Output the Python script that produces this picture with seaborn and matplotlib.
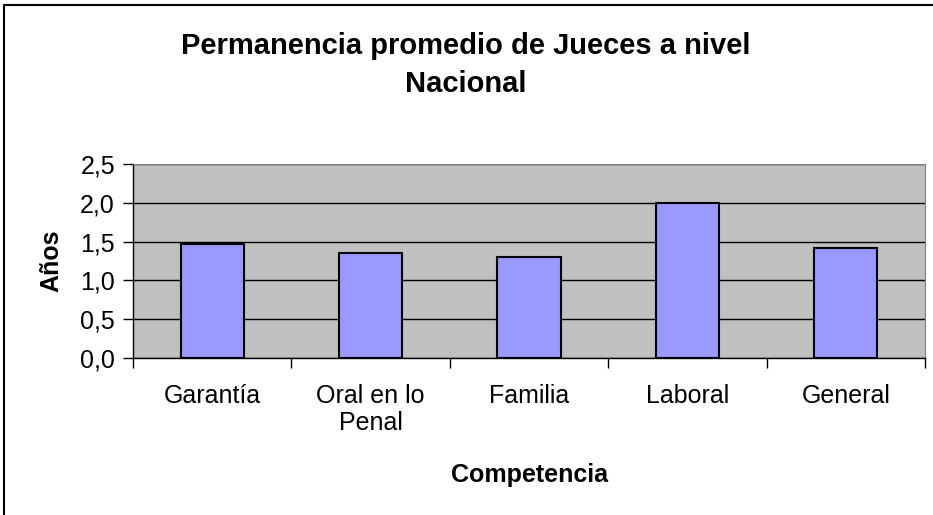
import seaborn as sns
import pandas as pd
import matplotlib.pyplot as plt
from matplotlib.lines import Line2D
from matplotlib.ticker import FixedLocator

categorias = ["Garantía", "Oral en lo\nPenal", "Familia", "Laboral", "General"]
anios = [1.47, 1.35, 1.30, 2.00, 1.42]
y_ticks = [0.0, 0.5, 1.0, 1.5, 2.0, 2.5]
y_labels = ["0,0", "0,5", "1,0", "1,5", "2,0", "2,5"]

sns.set_style("white")
plt.rcParams['font.family'] = ['Liberation Sans', 'DejaVu Sans']
plt.rcParams['text.color'] = 'black'
plt.rcParams['axes.labelcolor'] = 'black'
plt.rcParams['xtick.color'] = 'black'
plt.rcParams['ytick.color'] = 'black'

df = pd.DataFrame({'Competencia': categorias, 'Años': anios})

f = plt.figure(figsize=(9.33, 5.15), dpi=100)
ax = f.add_axes([133 / 933, 1 - 358 / 515, (925 - 133) / 933, (358 - 164) / 515])
ax.set_facecolor('#C0C0C0')

sns.barplot(data=df, x='Competencia', y='Años', color='#9999FF', saturation=1,
            edgecolor='black', linewidth=1.5, width=0.4, ax=ax, zorder=3)

ax.set_ylim(0, 2.5)
ax.set_xlim(-0.5, len(categorias) - 0.5)
ax.set_yticks(y_ticks)
ax.set_yticklabels(y_labels, fontsize=18)
ax.tick_params(axis='y', direction='out', length=7, width=1, left=True, pad=6)
ax.tick_params(axis='x', which='major', length=0, labelsize=18, pad=19)
for t in ax.get_xticklabels():
    t.set_linespacing(1.15)
ax.xaxis.set_minor_locator(FixedLocator([i - 0.5 for i in range(len(categorias) + 1)]))
ax.tick_params(axis='x', which='minor', direction='out', length=7, width=1, bottom=True)

ax.yaxis.grid(True, color='black', linewidth=1, zorder=1)
ax.set_axisbelow(True)
for s in ['left', 'bottom']:
    ax.spines[s].set_color('black')
    ax.spines[s].set_linewidth(1)
ax.spines['right'].set_color('#808080')
ax.spines['top'].set_color('#808080')

ax.set_xlabel('Competencia', fontsize=18, fontweight='bold', labelpad=20)
ax.set_ylabel('Años', fontsize=18, fontweight='bold', labelpad=12)

f.text(466 / 933, 1 - 65 / 515, "Permanencia promedio de Jueces a nivel\nNacional",
       ha='center', va='center', fontsize=21, fontweight='bold', linespacing=1.45)

# marco del gráfico (solo borde superior e izquierdo visibles)
f.add_artist(Line2D([4 / 933, 1], [1 - 4.5 / 515, 1 - 4.5 / 515], color='black', linewidth=1.5))
f.add_artist(Line2D([4 / 933, 4 / 933], [0, 1 - 4.5 / 515], color='black', linewidth=1.5))

f.savefig('out.png', dpi=100)
